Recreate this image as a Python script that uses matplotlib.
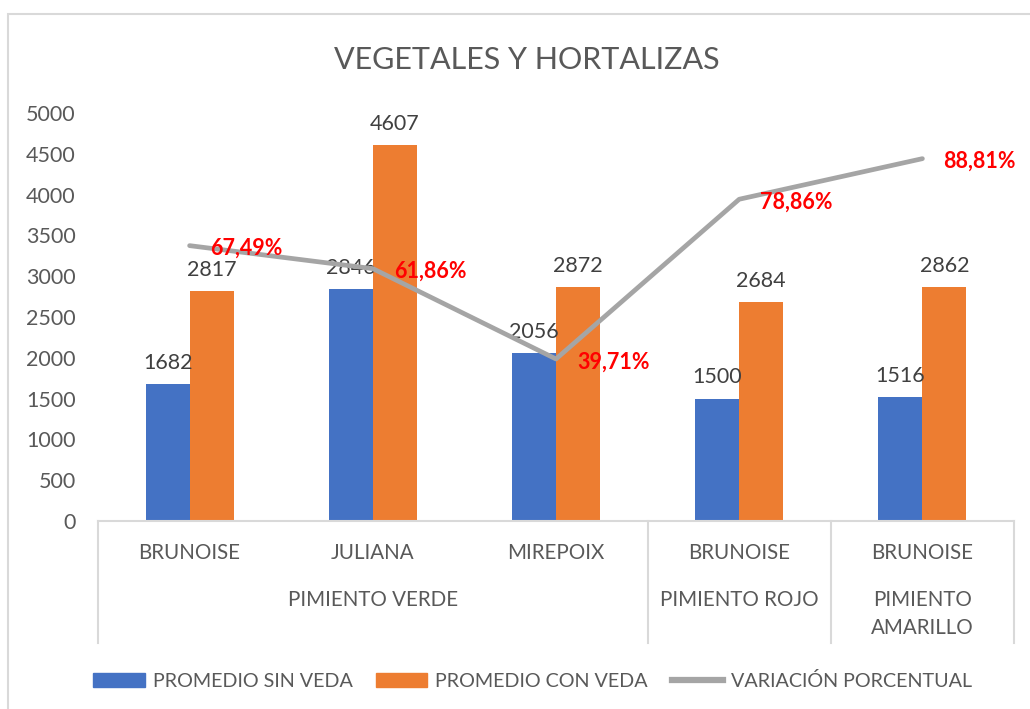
import matplotlib
matplotlib.use("Agg")
import matplotlib.pyplot as plt
from matplotlib.patches import Rectangle
from matplotlib.lines import Line2D
import numpy as np

plt.rcParams['font.family'] = ['Lato', 'DejaVu Sans']

# datos
cortes = ["BRUNOISE", "JULIANA", "MIREPOIX", "BRUNOISE", "BRUNOISE"]
grupos = ["PIMIENTO VERDE", "PIMIENTO ROJO", "PIMIENTO\nAMARILLO"]
grupo_tam = [3, 1, 1]
sin_veda = [1682, 2846, 2056, 1500, 1516]
con_veda = [2817, 4607, 2872, 2684, 2862]
variacion = [0.6749, 0.6186, 0.3971, 0.7886, 0.8881]
var_txt = ["67,49%", "61,86%", "39,71%", "78,86%", "88,81%"]

AZUL = "#4472C4"
NARANJA = "#ED7D31"
GRIS = "#A5A5A5"
TXT = "#595959"
LINEA = "#D9D9D9"

fig = plt.figure(figsize=(10.30, 7.09), dpi=100)
ax = fig.add_axes([98/1030, 1-521/709, (1014-98)/1030, (521-113)/709])

x = np.arange(len(cortes))
w = 0.24
b1 = ax.bar(x - w/2, sin_veda, w, color=AZUL, label="PROMEDIO SIN VEDA")
b2 = ax.bar(x + w/2, con_veda, w, color=NARANJA, label="PROMEDIO CON VEDA")
ax.bar_label(b1, padding=8, fontsize=15.5, color="#404040")
ax.bar_label(b2, padding=8, fontsize=15.5, color="#404040")

ax.set_xlim(-0.5, len(cortes) - 0.5)
ax.set_ylim(0, 5000)
ax.set_yticks(np.arange(0, 5001, 500))
ax.tick_params(axis='y', length=0, pad=16, labelsize=15.5, labelcolor=TXT)
ax.set_xticks([])
for s in ["top", "right", "left"]:
    ax.spines[s].set_visible(False)
ax.spines["bottom"].set_color(LINEA)
ax.spines["bottom"].set_linewidth(1.5)

# eje de categorias en dos niveles
tr = ax.get_xaxis_transform()
for i, c in enumerate(cortes):
    ax.text(i, -0.078, c, transform=tr, ha='center', va='center', fontsize=14.8, color=TXT)
pos = -0.5
for g, n in zip(grupos, grupo_tam):
    ax.text(pos + n/2, -0.168, g, transform=tr, ha='center', va='top', fontsize=14.8,
            color=TXT, linespacing=1.5)
    pos += n
sep = [-0.5] + list(np.cumsum(grupo_tam) - 0.5)
for s in sep:
    ax.plot([s, s], [0, -0.299], transform=tr, color=LINEA, lw=1.5, clip_on=False)

# linea de variacion
ax2 = ax.twinx()
ax2.set_ylim(0, 1)
ax2.axis('off')
ax2.plot(x, variacion, color=GRIS, lw=3.4, solid_capstyle='round',
         label="VARIACIÓN PORCENTUAL")
for xi, v, t in zip(x, variacion, var_txt):
    ax2.annotate(t, (xi, v), xytext=(15, -2), textcoords='offset points', ha='left',
                 va='center', color="#FF0000", fontsize=15.5, fontweight='bold')

fig.text(0.511, 1-60/709, "VEGETALES Y HORTALIZAS", ha='center', va='center',
         fontsize=22, color=TXT)

handles = [Rectangle((0, 0), 1, 1, color=AZUL), Rectangle((0, 0), 1, 1, color=NARANJA),
           Line2D([], [], color=GRIS, lw=4.5)]
labels = ["PROMEDIO SIN VEDA", "PROMEDIO CON VEDA", "VARIACIÓN PORCENTUAL"]
fig.legend(handles, labels, loc='center', bbox_to_anchor=(0.517, 1-681/709), ncol=3,
           frameon=False, fontsize=14.2, labelcolor=TXT, handlelength=2.6,
           handleheight=0.75, handletextpad=0.4, columnspacing=1.2)

# borde del grafico
fig.add_artist(Rectangle((8/1030, -0.01), 1.1, 1-14/709 + 0.01, transform=fig.transFigure,
                         fill=False, edgecolor=LINEA, lw=1.5))

fig.savefig("out.png", dpi=100)
